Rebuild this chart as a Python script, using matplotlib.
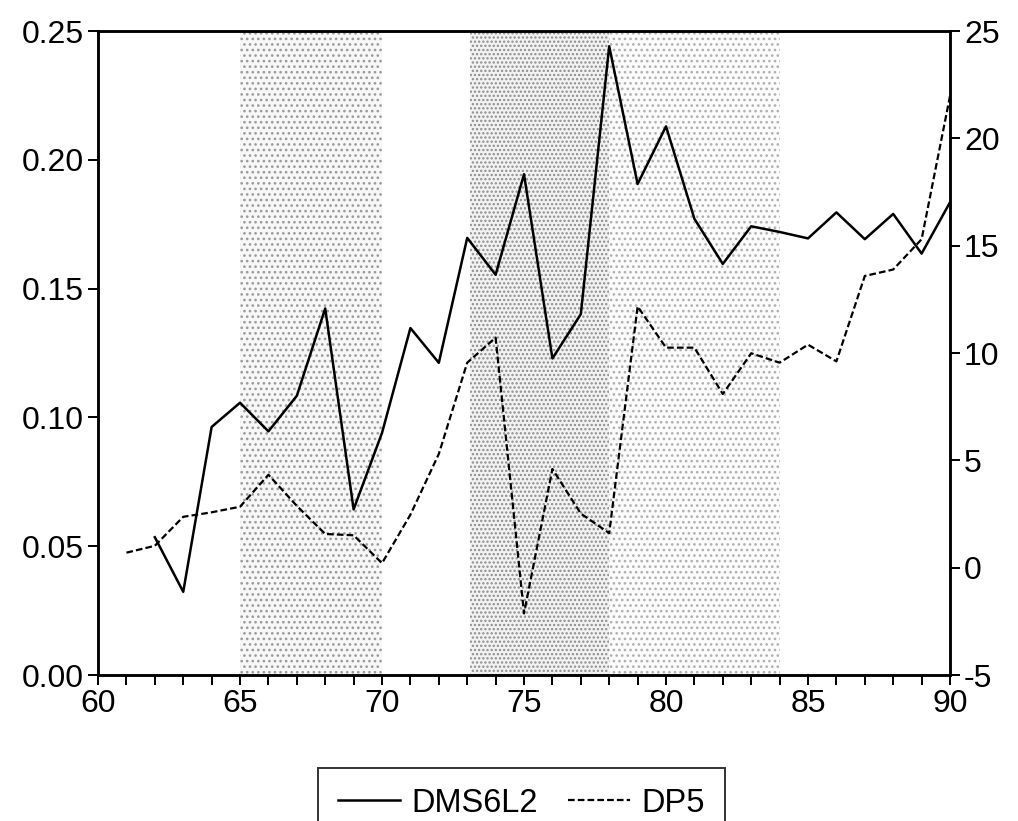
import matplotlib
matplotlib.use("Agg")
import matplotlib.pyplot as plt
from matplotlib.ticker import FixedLocator, FuncFormatter

plt.rcParams['font.family'] = ['Liberation Sans', 'DejaVu Sans']
plt.rcParams['hatch.linewidth'] = 1.1

years = list(range(61, 91))
dms6l2 = [None, 0.0535, 0.0323, 0.0963, 0.1057, 0.0946, 0.1084, 0.1423, 0.0643, 0.0940,
          0.1347, 0.1212, 0.1697, 0.1554, 0.1944, 0.1229, 0.1401, 0.2441, 0.1906, 0.2130,
          0.1771, 0.1596, 0.1742, 0.1720, 0.1695, 0.1796, 0.1692, 0.1790, 0.1636, 0.1835]
dp5 = [0.70, 1.02, 2.37, 2.58, 2.84, 4.33, 2.88, 1.57, 1.51, 0.21,
       2.47, 5.30, 9.55, 10.72, -2.13, 4.60, 2.52, 1.61, 12.17, 10.25,
       10.25, 8.09, 9.99, 9.55, 10.39, 9.61, 13.59, 13.89, 15.30, 21.97]
shaded_periods = [(65.0, 70.0, 'medium'), (73.1, 78.0, 'dense'), (78.0, 84.0, 'light')]
left_ticks = [0.00, 0.05, 0.10, 0.15, 0.20, 0.25]
right_ticks = [-5, 0, 5, 10, 15, 20, 25]
x_major = [60, 65, 70, 75, 80, 85, 90]

fig = plt.figure(figsize=(10.18, 8.21), dpi=100)
ax = fig.add_axes([0.0963, 0.1778, 0.8369, 0.7844])
ax2 = ax.twinx()

styles = {'dense': ('#f2f2f2', '#8c8c8c', '....'),
          'medium': ('#f7f7f7', '#9a9a9a', '...'),
          'light': ('#fbfbfb', '#b0b0b0', '...')}
for a, b, kind in shaded_periods:
    fc, ec, h = styles[kind]
    ax.axvspan(a, b, facecolor=fc, edgecolor=ec, hatch=h, lw=0, zorder=0)

xs = [y for y, v in zip(years, dms6l2) if v is not None]
vs = [v for v in dms6l2 if v is not None]
l1, = ax.plot(xs, vs, color='black', lw=1.8, label='DMS6L2', zorder=3)
l2, = ax2.plot(years, dp5, color='black', lw=1.6, linestyle=(0, (3.0, 1.4)), label='DP5', zorder=3)

ax.set_xlim(60, 90)
ax.set_ylim(0, 0.25)
ax2.set_ylim(-5, 25)

ax.xaxis.set_major_locator(FixedLocator(list(range(60, 91))))
ax.xaxis.set_major_formatter(FuncFormatter(lambda v, p: f"{int(round(v))}" if int(round(v)) in x_major else ""))
ax.set_yticks(left_ticks)
ax.yaxis.set_major_formatter(FuncFormatter(lambda v, p: f"{v:.2f}"))
ax2.set_yticks(right_ticks)
ax2.yaxis.set_major_formatter(FuncFormatter(lambda v, p: f"{int(round(v))}"))

for a in (ax, ax2):
    a.tick_params(direction='out', length=7, width=1.4, labelsize=23, pad=3)
    for s in a.spines.values():
        s.set_linewidth(1.8)

leg = fig.legend([l1, l2], ['DMS6L2', 'DP5'], loc='upper center',
                 bbox_to_anchor=(0.5123, 0.0646), ncol=2, fontsize=23.5,
                 frameon=True, fancybox=False, edgecolor='black',
                 handlelength=1.9, columnspacing=0.94, handletextpad=0.35,
                 borderpad=0.6, borderaxespad=0)
leg.get_frame().set_linewidth(1.4)

fig.savefig('out.png', dpi=100)
